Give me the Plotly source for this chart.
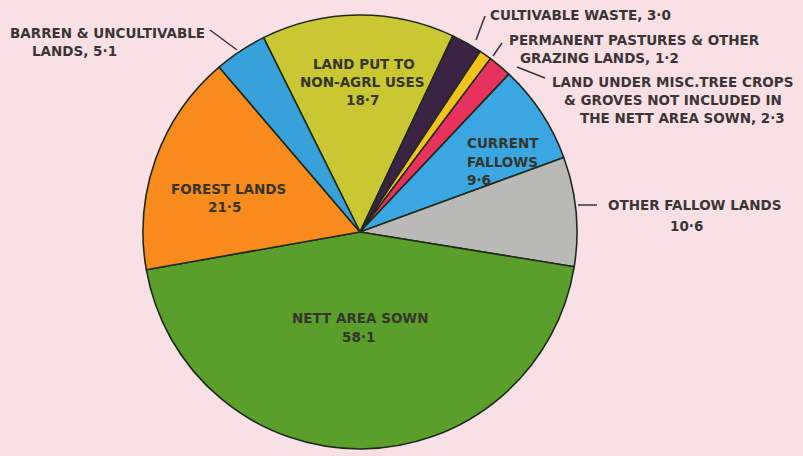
import plotly.graph_objects as go

# land-use classes, clockwise from the top slice
categories = [
    "Land put to non-agrl. uses",
    "Cultivable waste",
    "Permanent pastures & other grazing lands",
    "Land under misc. tree crops & groves",
    "Current fallows",
    "Other fallow lands",
    "Nett area sown",
    "Forest lands",
    "Barren & uncultivable lands",
]
values = [18.7, 3.0, 1.2, 2.3, 9.6, 10.6, 58.1, 21.5, 5.1]
colors = [
    "#c9c732", "#3b2343", "#f4c21c", "#e6325c", "#3aa7e2",
    "#b9b9b5", "#5a9f2a", "#f98b1c", "#39a1da",
]

W, H = 803, 456
BG = "#f9e0e5"
INK = "#3b3536"
INK_IN = "#35352a"


def px(x, y):
    return x / W, 1 - y / H


fig = go.Figure(
    go.Pie(
        labels=categories,
        values=values,
        sort=False,
        direction="clockwise",
        rotation=-26.4,
        marker=dict(colors=colors, line=dict(color="#1f2a1c", width=1.6)),
        textinfo="none",
        hoverinfo="label+value",
        showlegend=False,
        domain=dict(x=[(360 - 217) / W, (360 + 217) / W],
                    y=[1 - (232 + 219) / H, 1 - (232 - 219) / H]),
    )
)

# text labels: (text, x px, y px, anchor, size, colour)
labels = [
    ("LAND PUT TO", 364, 64, "center", 13.5, INK_IN),
    ("NON-AGRL USES", 362, 82, "center", 13.5, INK_IN),
    ("18·7", 362, 100, "center", 13.5, INK_IN),
    ("CURRENT", 465, 143, "left", 13.5, INK_IN),
    ("FALLOWS", 465, 162, "left", 13.5, INK_IN),
    ("9·6", 465, 180, "left", 13.5, INK_IN),
    ("FOREST LANDS", 228, 189, "center", 13.5, INK_IN),
    ("21·5", 224, 207, "center", 13.5, INK_IN),
    ("NETT AREA SOWN", 360, 318, "center", 13.5, INK_IN),
    ("58·1", 358, 337, "center", 13.5, INK_IN),
    ("BARREN & UNCULTIVABLE", 8, 33, "left", 13.5, INK),
    ("LANDS, 5·1", 30, 51, "left", 13.5, INK),
    ("CULTIVABLE WASTE, 3·0", 488, 15, "left", 13.5, INK),
    ("PERMANENT PASTURES & OTHER", 507, 40, "left", 13.5, INK),
    ("GRAZING LANDS, 1·2", 518, 58, "left", 13.5, INK),
    ("LAND UNDER MISC.TREE CROPS", 672, 82, "center", 13.5, INK),
    ("& GROVES NOT INCLUDED IN", 673, 100, "center", 13.5, INK),
    ("THE NETT AREA SOWN, 2·3", 682, 118, "center", 13.5, INK),
    ("OTHER FALLOW LANDS", 695, 205, "center", 13.5, INK),
    ("10·6", 686, 226, "center", 13.5, INK),
]
for text, x, y, anchor, size, color in labels:
    ax, ay = px(x, y)
    fig.add_annotation(
        x=ax, y=ay, xref="paper", yref="paper", text=text, showarrow=False,
        xanchor=anchor, yanchor="middle",
        font=dict(family="DejaVu Sans", size=size, color=color, weight="bold"),
    )

# leader lines from labels to the pie edge
leaders = [
    (210, 30, 237, 50),
    (485, 16, 476, 40),
    (502, 43, 493, 56),
    (545, 78, 517, 67),
    (597, 205, 578, 205),
]
for x0, y0, x1, y1 in leaders:
    a0, b0 = px(x0, y0)
    a1, b1 = px(x1, y1)
    fig.add_shape(type="line", xref="paper", yref="paper",
                  x0=a0, y0=b0, x1=a1, y1=b1,
                  line=dict(color=INK, width=1.5))

fig.update_layout(
    width=W,
    height=H,
    margin=dict(l=0, r=0, t=0, b=0),
    paper_bgcolor=BG,
    plot_bgcolor=BG,
)

fig.write_html(
    "out.html",
    config=dict(displayModeBar=False),
    post_script="document.body.style.margin='0';document.body.style.background='%s';" % BG,
)
